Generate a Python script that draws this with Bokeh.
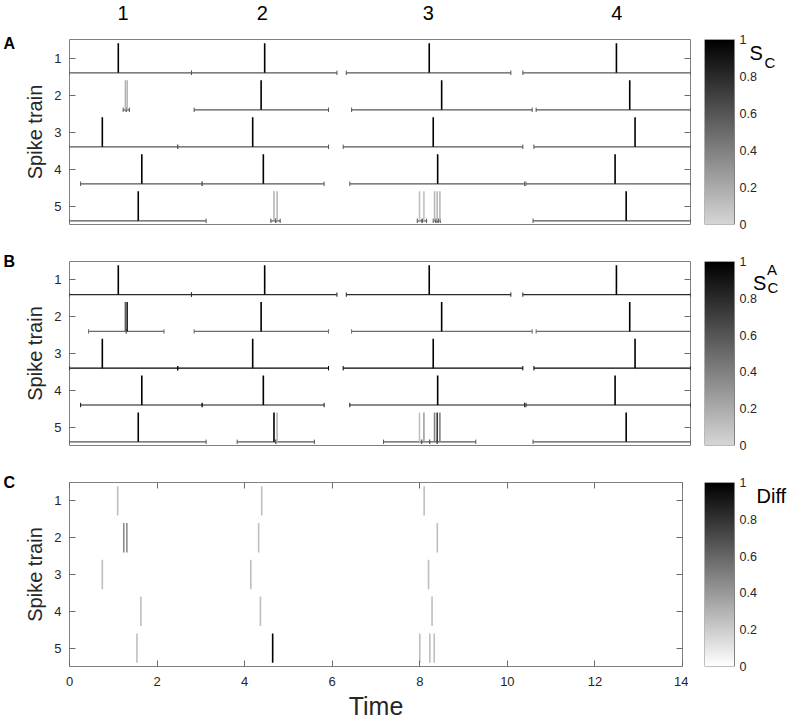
import numpy as np
from bokeh.plotting import figure
from bokeh.models import (ColumnDataSource, Range1d, LinearAxis, FixedTicker,
                          LinearColorMapper, CustomLabelingPolicy)
from bokeh.layouts import row, column
from bokeh.transform import linear_cmap
from bokeh.core.properties import value
from bokeh.embed import file_html
from bokeh.resources import INLINE

FONT = "Liberation Sans"
TXT = "#262626"
FRAME = "#808080"

# ---------------- data ----------------
train_ids = [1, 2, 3, 4, 5]
cluster_labels = ["1", "2", "3", "4"]
cluster_pos = [1.23, 4.36, 8.1, 12.34]
panel_letters = ["A", "B", "C"]

# spikes shown in panels A and B
spike_row = [1, 1, 1, 1,
             2, 2, 2, 2, 2,
             3, 3, 3, 3,
             4, 4, 4, 4,
             5, 5, 5, 5, 5, 5, 5, 5, 5]
spike_time = [1.10, 4.40, 8.11, 12.33,
              1.26, 1.30, 4.32, 8.39, 12.63,
              0.74, 4.13, 8.20, 12.75,
              1.63, 4.37, 8.30, 12.30,
              1.55, 4.61, 4.68, 7.89, 7.99, 8.23, 8.29, 8.35, 12.55]
sc_value = [1, 1, 1, 1,
            0.15, 0.15, 1, 1, 1,
            1, 1, 1, 1,
            1, 1, 1, 1,
            1, 0.15, 0.15, 0.1, 0.1, 0.15, 0.15, 0.15, 1]
sca_value = [1, 1, 1, 1,
             0.55, 0.85, 1, 1, 1,
             1, 1, 1, 1,
             1, 1, 1, 1,
             1, 1, 0.15, 0.1, 0.25, 0.4, 0.75, 0.4, 1]

# coincidence windows, panel A
win_a_row = [1, 1, 1, 1,
             2, 2, 2, 2, 2,
             3, 3, 3, 3,
             4, 4, 4, 4,
             5, 5, 5, 5, 5, 5, 5, 5, 5]
win_a_start = [0.00, 2.75, 6.24, 10.22,
               1.21, 1.28, 2.81, 6.36, 10.52,
               0.00, 2.44, 6.17, 10.47,
               0.25, 2.99, 6.32, 10.29,
               0.00, 4.54, 4.65, 7.84, 7.95, 8.20, 8.26, 8.31, 10.45]
win_a_end = [2.75, 6.03, 9.95, 14.0,
             1.28, 1.35, 5.84, 10.43, 14.0,
             2.44, 5.84, 10.22, 14.0,
             2.99, 5.74, 10.26, 14.0,
             3.08, 4.65, 4.75, 7.95, 8.05, 8.26, 8.31, 8.36, 14.0]
win_a_value = [0.6] * 26

# coincidence windows, panel B
win_b_row = [1, 1, 1, 1,
             2, 2, 2, 2, 2,
             3, 3, 3, 3,
             4, 4, 4, 4,
             5, 5, 5, 5, 5, 5, 5, 5]
win_b_start = [0.00, 2.75, 6.24, 10.22,
               0.43, 1.28, 2.81, 6.36, 10.52,
               0.00, 2.44, 6.17, 10.47,
               0.25, 2.99, 6.32, 10.29,
               0.00, 3.78, 4.65, 7.08, 7.94, 8.12, 8.29, 10.45]
win_b_end = [2.75, 6.03, 9.95, 14.0,
             1.28, 2.13, 5.84, 10.43, 14.0,
             2.44, 5.84, 10.22, 14.0,
             2.99, 5.74, 10.26, 14.0,
             3.08, 4.65, 5.52, 7.94, 8.12, 8.29, 9.16, 14.0]
win_b_value = [0.8] * 4 + [0.5] * 5 + [1.0] * 4 + [0.9] * 4 + [0.6] * 8

# panel C: difference
diff_row = [1, 1, 1,
            2, 2, 2, 2,
            3, 3, 3,
            4, 4, 4,
            5, 5, 5, 5, 5]
diff_time = [1.10, 4.39, 8.10,
             1.24, 1.31, 4.32, 8.40,
             0.75, 4.14, 8.20,
             1.63, 4.36, 8.28,
             1.54, 4.64, 8.00, 8.23, 8.33]
diff_value = [0.25, 0.25, 0.25,
              0.45, 0.45, 0.25, 0.25,
              0.25, 0.25, 0.25,
              0.25, 0.25, 0.25,
              0.25, 1.0, 0.25, 0.25, 0.25]

x_ticks = [0, 2, 4, 6, 8, 10, 12, 14]
cb_ticks = [0, 0.2, 0.4, 0.6, 0.8, 1]
cb_tick_labels = ["0", "0.2", "0.4", "0.6", "0.8", "1"]


def gray_palette(lightest):
    out = []
    for k in range(256):
        g = int(round(lightest * (1 - k / 255)))
        out.append("#%02x%02x%02x" % (g, g, g))
    return out


PAL_SC = gray_palette(214)
PAL_DIFF = gray_palette(255)

HALF = 0.4
WIN_OFF = 0.4
END_H = 0.06
STRIP_W = 21
LEFT_B = 47
RIGHT_B = 6
TOTAL_W = 788
BAR_X = 704       # page x of the colour bars
CB_AREA = TOTAL_W - BAR_X


def hide_labels(ax):
    ax.major_label_text_font_size = "0px"
    ax.major_label_standoff = 0
    ax.major_label_policy = CustomLabelingPolicy(code="return new Set()")


def style_axis(ax):
    ax.axis_line_color = None
    ax.major_tick_in = 6
    ax.major_tick_out = 0
    ax.minor_tick_line_color = None
    ax.major_tick_line_color = "#6a6a6a"
    ax.major_label_text_font = FONT
    ax.major_label_text_color = TXT
    ax.major_label_text_font_size = "13px"


def bare_figure(**kw):
    f = figure(title=None, x_axis_location=None, y_axis_location=None,
               output_backend="svg", toolbar_location=None,
               background_fill_color="white", border_fill_color="white", **kw)
    f.grid.visible = False
    f.outline_line_color = None
    return f


def make_panel(frame_w, top_b, frame_h, bottom_b, t, r, v, pal, windows=None, show_x=False):
    p = figure(title=None, width=LEFT_B + frame_w + RIGHT_B, height=top_b + frame_h + bottom_b,
               x_range=Range1d(0, 14), y_range=Range1d(5.5, 0.5),
               output_backend="svg", toolbar_location=None,
               min_border_left=LEFT_B, min_border_right=RIGHT_B,
               min_border_top=top_b, min_border_bottom=bottom_b,
               background_fill_color="white", border_fill_color="white")
    p.grid.visible = False
    p.outline_line_color = FRAME
    p.outline_line_width = 1

    yax = p.yaxis[0]
    yax.ticker = FixedTicker(ticks=train_ids)
    style_axis(yax)
    yax.major_label_standoff = 8
    yax.axis_label = "Spike train"
    yax.axis_label_text_font = FONT
    yax.axis_label_text_font_size = "20px"
    yax.axis_label_text_font_style = "normal"
    yax.axis_label_text_color = TXT
    yax.axis_label_standoff = 5

    right = LinearAxis(ticker=FixedTicker(ticks=train_ids))
    style_axis(right)
    hide_labels(right)
    p.add_layout(right, "right")

    xax = p.xaxis[0]
    if show_x:
        xax.ticker = FixedTicker(ticks=x_ticks)
        style_axis(xax)
        xax.major_label_standoff = 10
        xax.axis_label = "Time"
        xax.axis_label_text_font = FONT
        xax.axis_label_text_font_size = "25px"
        xax.axis_label_text_font_style = "normal"
        xax.axis_label_text_color = TXT
        xax.axis_label_standoff = 3
        top = LinearAxis(ticker=FixedTicker(ticks=x_ticks))
        style_axis(top)
        hide_labels(top)
        p.add_layout(top, "above")
    else:
        xax.visible = False

    cmap = linear_cmap("v", pal, 0, 1)

    if windows is not None:
        wr, ws, we, wv = windows
        wy = [ri + WIN_OFF for ri in wr]
        wsrc = ColumnDataSource(dict(x0=ws, x1=we, y=wy, v=wv,
                                     lo=[y - END_H for y in wy], hi=[y + END_H for y in wy]))
        p.segment(x0="x0", y0="y", x1="x1", y1="y", source=wsrc, line_color=cmap, line_width=1.2)
        p.segment(x0="x0", y0="lo", x1="x0", y1="hi", source=wsrc, line_color=cmap, line_width=1)
        p.segment(x0="x1", y0="lo", x1="x1", y1="hi", source=wsrc, line_color=cmap, line_width=1)

    ssrc = ColumnDataSource(dict(t=t, v=v,
                                 y0=[ri - HALF for ri in r], y1=[ri + HALF for ri in r]))
    p.segment(x0="t", y0="y0", x1="t", y1="y1", source=ssrc, line_color=cmap, line_width=1.6)
    return p


def txt(p, x, y, s, size, style="normal", align="left", color="black"):
    # y is the visual centre of the text
    p.text(x=x, y=y, text=s, text_font=value(FONT), text_font_size=value(size),
           text_font_style=style, text_align=align, text_baseline="middle", text_color=color)


def make_cbar(gap, top_b, frame_h, bottom_b, pal):
    # frame: from the bar's left edge to the page's right edge; x in px, y = colour value
    c = bare_figure(width=gap + CB_AREA, height=top_b + frame_h + bottom_b,
                    x_range=Range1d(0, CB_AREA), y_range=Range1d(0, 1),
                    min_border_left=gap, min_border_right=0,
                    min_border_top=top_b, min_border_bottom=bottom_b)
    mapper = LinearColorMapper(palette=pal, low=0, high=1)
    c.image(image=[np.linspace(0, 1, 256).reshape(256, 1)], x=0, y=0, dw=30, dh=1,
            color_mapper=mapper)
    c.quad(left=[0], right=[30], bottom=[0], top=[1], fill_color=None, line_color=FRAME,
           line_width=1)
    ax = LinearAxis(ticker=FixedTicker(ticks=cb_ticks),
                    major_label_overrides={tk: lb for tk, lb in zip(cb_ticks, cb_tick_labels)})
    ax.axis_line_color = None
    ax.major_tick_in = 0
    ax.major_tick_out = 0
    ax.minor_tick_line_color = None
    ax.major_tick_line_color = None
    ax.major_label_standoff = 35 - CB_AREA
    ax.major_label_text_font = FONT
    ax.major_label_text_font_size = "12.5px"
    ax.major_label_text_color = TXT
    c.add_layout(ax, "right")
    return c


# ---------------- layout sizes ----------------
HEAD_H = 24
A_TOP, A_H, A_BOT = 39 - HEAD_H, 185, 18
B_TOP, B_H, B_BOT = 19, 184, 18
C_TOP, C_H, C_BOT = 19, 184, 56

pA = make_panel(622, A_TOP, A_H, A_BOT, spike_time, spike_row, sc_value, PAL_SC,
                windows=(win_a_row, win_a_start, win_a_end, win_a_value))
pB = make_panel(622, B_TOP, B_H, B_BOT, spike_time, spike_row, sca_value, PAL_SC,
                windows=(win_b_row, win_b_start, win_b_end, win_b_value))
pC = make_panel(614, C_TOP, C_H, C_BOT, diff_time, diff_row, diff_value, PAL_DIFF, show_x=True)

wA = LEFT_B + 622 + RIGHT_B
wC = LEFT_B + 614 + RIGHT_B
cA = make_cbar(BAR_X - STRIP_W - wA, A_TOP, A_H, A_BOT, PAL_SC)
cB = make_cbar(BAR_X - STRIP_W - wA, B_TOP, B_H, B_BOT, PAL_SC)
cC = make_cbar(BAR_X - STRIP_W - wC, C_TOP, C_H, C_BOT, PAL_DIFF)

# colour bar titles (y = centre height on the colour scale)
txt(cA, [45], [0.929], ["S"], "20px")
txt(cA, [60], [0.876], ["C"], "15px")
txt(cB, [48.5], [0.883], ["S"], "20px")
txt(cB, [63], [0.859], ["C"], "15px")
txt(cB, [62.5], [0.957], ["A"], "15px")
txt(cC, [52], [0.926], ["Diff"], "20px")

# header with the cluster numbers (shares the time axis of panel A)
header = bare_figure(width=wA, height=HEAD_H, x_range=pA.x_range, y_range=Range1d(HEAD_H, 0),
                     min_border_left=LEFT_B, min_border_right=RIGHT_B,
                     min_border_top=0, min_border_bottom=0)
header.frame_align = False
txt(header, cluster_pos, [12.5] * len(cluster_pos), cluster_labels, "20px", align="center")

# strip with the panel letters (pixel coordinates)
total_h = HEAD_H + (A_TOP + A_H + A_BOT) + (B_TOP + B_H + B_BOT) + (C_TOP + C_H + C_BOT)
strip = bare_figure(width=STRIP_W, height=total_h, x_range=Range1d(0, STRIP_W),
                    y_range=Range1d(total_h, 0),
                    min_border_left=0, min_border_right=0, min_border_top=0, min_border_bottom=0)
strip.frame_align = False
txt(strip, [3, 3, 3], [42.5, 261, 481.5], panel_letters, "16px", style="bold")

layout = row(strip, column(header, row(pA, cA), row(pB, cB), row(pC, cC)))

open("out.html", "w").write(file_html(layout, INLINE))
